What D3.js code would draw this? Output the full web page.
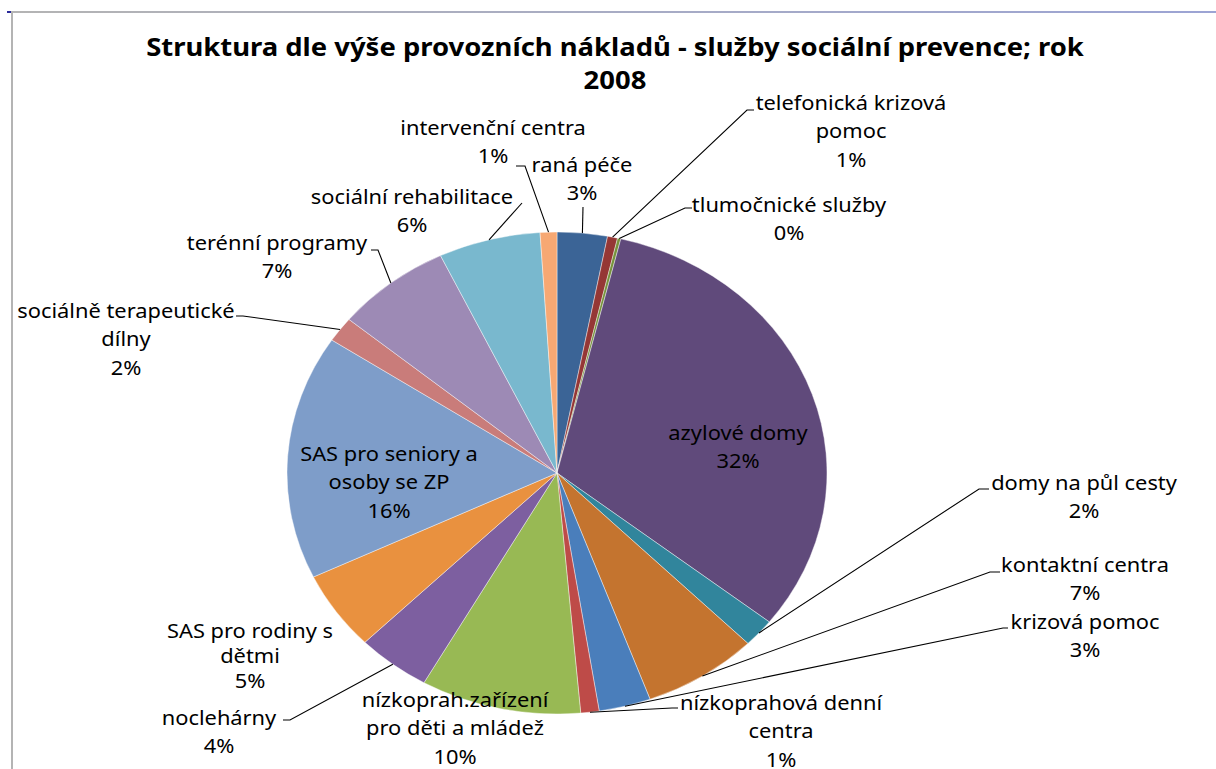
<!DOCTYPE html>
<meta charset="utf-8">
<script src="https://d3js.org/d3.v7.min.js"></script>
<style>
  body { margin: 0; background: #fff; }
  text { font-family: "Noto Sans", sans-serif; fill: #000; }
</style>
<body>
<svg id="chart" width="1216" height="769"></svg>
<script>
// data: categories, shares (percent) and shown labels
var categories = ["raná péče", "telefonická krizová pomoc", "tlumočnické služby", "azylové domy",
  "domy na půl cesty", "kontaktní centra", "krizová pomoc", "nízkoprahová denní centra",
  "nízkoprah.zařízení pro děti a mládež", "noclehárny", "SAS pro rodiny s dětmi",
  "SAS pro seniory a osoby se ZP", "sociálně terapeutické dílny", "terénní programy",
  "sociální rehabilitace", "intervenční centra"];
var shares = [3.0, 0.6, 0.2, 31.8, 1.9, 6.9, 3.1, 1.1, 9.6, 4.4, 5.3, 16.4, 1.7, 6.9, 6.1, 1.0];
var labelLines = [
  ["raná péče"], ["telefonická krizová", "pomoc"], ["tlumočnické služby"], ["azylové domy"],
  ["domy na půl cesty"], ["kontaktní centra"], ["krizová pomoc"], ["nízkoprahová denní", "centra"],
  ["nízkoprah.zařízení", "pro děti a mládež"], ["noclehárny"], ["SAS pro rodiny s", "dětmi"],
  ["SAS pro seniory a", "osoby se ZP"], ["sociálně terapeutické", "dílny"], ["terénní programy"],
  ["sociální rehabilitace"], ["intervenční centra"]];
var colors = ["#3b6496", "#953735", "#77933c", "#604a7b", "#31859c", "#c4742f", "#4a7ebb", "#be4b48",
  "#98b954", "#7d5fa0", "#e9913f", "#7e9dc9", "#c97c7a", "#9d8ab5", "#79b8ce", "#f7a873"];

// layout: label anchor (centre x, first baseline y) and leader elbow / tick end
var labelLayout = [
  {x: 582, y: 172, elbow: [583, 207]},
  {x: 851, y: 110, elbow: [747, 110], tick: 754},
  {x: 789, y: 212, elbow: [685, 208], tick: 692},
  {x: 738, y: 440},
  {x: 1084, y: 490, elbow: [979, 489], tick: 989},
  {x: 1085, y: 572, elbow: [990, 572], tick: 1000},
  {x: 1085, y: 629, elbow: [1003, 628], tick: 1008},
  {x: 781, y: 710, elbow: [672, 708], tick: 678},
  {x: 455, y: 707},
  {x: 219, y: 725, elbow: [290, 720], tick: 283},
  {x: 250, y: 638},
  {x: 389, y: 461},
  {x: 126, y: 318, elbow: [243, 316], tick: 236},
  {x: 277, y: 250, elbow: [378, 250], tick: 371},
  {x: 412, y: 204, elbow: [522, 203]},
  {x: 493, y: 135, elbow: [525, 166], tick: 516}
];

var svg = d3.select("#chart");
var cx = 557, cy = 473, R = 241, sx = 270 / 241, lineH = 28.5;

// frame
var defs = svg.append("defs");
var grad = defs.append("linearGradient").attr("id", "topline");
grad.append("stop").attr("offset", "0%").attr("stop-color", "#b4b4b4");
grad.append("stop").attr("offset", "100%").attr("stop-color", "#9ca4d4");
svg.append("rect").attr("x", 11).attr("y", 11).attr("width", 1205).attr("height", 2).attr("fill", "url(#topline)");
svg.append("rect").attr("x", 11).attr("y", 11).attr("width", 2).attr("height", 758).attr("fill", "#b4b4b4");
svg.append("rect").attr("x", 7).attr("y", 11).attr("width", 4).attr("height", 2).attr("fill", "#2a2a9a");

// title
var title = svg.append("text")
  .attr("text-anchor", "middle")
  .attr("font-weight", "bold")
  .attr("font-size", 24.5)
  .attr("transform", "translate(615,0) scale(" + sx + ",1)");
title.append("tspan").attr("x", 0).attr("y", 56).text("Struktura dle výše provozních nákladů - služby sociální prevence; rok");
title.append("tspan").attr("x", 0).attr("y", 89).text("2008");

// pie
var pie = d3.pie().sort(null).value(function (d) { return d; });
var arcs = pie(shares);
var arc = d3.arc().innerRadius(0).outerRadius(R);

svg.append("g")
  .attr("transform", "translate(" + cx + "," + cy + ") scale(" + sx + ",1)")
  .selectAll("path")
  .data(arcs)
  .enter()
  .append("path")
    .attr("d", arc)
    .attr("fill", function (d, i) { return colors[i]; })
    .attr("stroke", "#fff")
    .attr("stroke-width", 0.4);

// leader lines from the slice edge
function edgePoint(d) {
  var a = (d.startAngle + d.endAngle) / 2;
  return [cx + Math.sin(a) * R * sx, cy - Math.cos(a) * R];
}
var leaders = svg.append("g").attr("fill", "none").attr("stroke", "#000").attr("stroke-width", 1.1);
arcs.forEach(function (d, i) {
  var L = labelLayout[i];
  if (!L.elbow) return;
  var pts = [edgePoint(d), L.elbow];
  if (L.tick !== undefined) pts.push([L.tick, L.elbow[1]]);
  leaders.append("path").attr("d", d3.line()(pts));
});

// labels
var fmt = function (v) { return Math.round(v) + "%"; };
arcs.forEach(function (d, i) {
  var L = labelLayout[i];
  var t = svg.append("text")
    .attr("text-anchor", "middle")
    .attr("font-size", 19.5)
    .attr("transform", "translate(" + L.x + "," + L.y + ") scale(" + sx + ",1)");
  var lines = labelLines[i].concat([fmt(shares[i])]);
  var step = (i === 10) ? 25 : lineH;
  lines.forEach(function (s, k) {
    t.append("tspan").attr("x", 0).attr("y", k * step).text(s);
  });
});
</script>
</body>
